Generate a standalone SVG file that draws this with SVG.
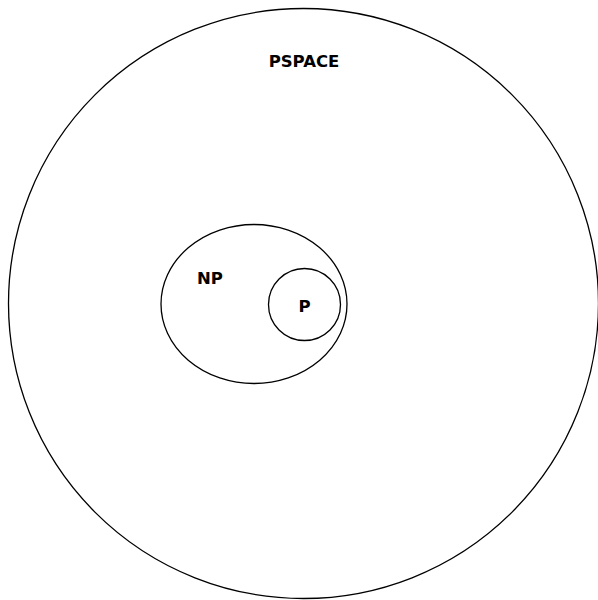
<svg xmlns="http://www.w3.org/2000/svg" width="598" height="600" viewBox="0 0 598 600">
<style>
.set{fill:none;stroke:#000;stroke-width:1.3}
.lbl{font-family:"DejaVu Sans",sans-serif;font-weight:bold;font-size:16.5px;fill:#000;text-anchor:middle}
</style>
<rect width="598" height="600" fill="#fff"/>
<g id="pspace">
<circle class="set" cx="303.5" cy="303.5" r="295"/>
<text class="lbl" x="304" y="67">PSPACE</text>
</g>
<g id="np">
<ellipse class="set" cx="254" cy="304" rx="93" ry="79.5"/>
<text class="lbl" x="210" y="283.5">NP</text>
</g>
<g id="p">
<circle class="set" cx="304.5" cy="304.5" r="36"/>
<text class="lbl" x="304.5" y="312">P</text>
</g>
<g id="connectors"></g>
</svg>
